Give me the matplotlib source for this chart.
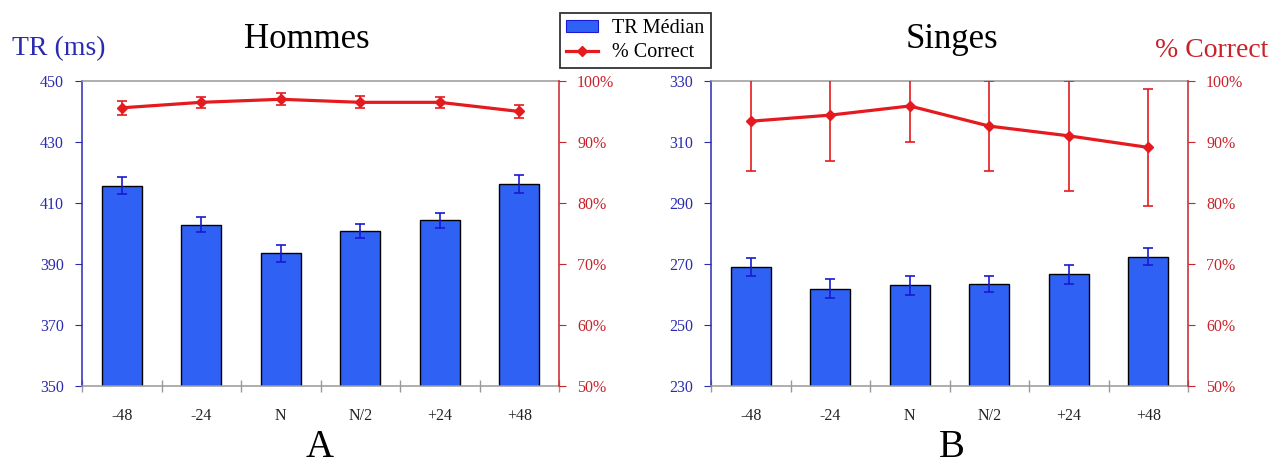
import matplotlib
matplotlib.use("Agg")
import matplotlib.pyplot as plt
from matplotlib.patches import Patch
from matplotlib.lines import Line2D
from matplotlib.ticker import FuncFormatter, FixedLocator

plt.rcParams['font.family'] = ['Liberation Serif', 'DejaVu Serif']

categories = ['-48', '-24', 'N', 'N/2', '+24', '+48']

hommes_tr = [415.7, 402.8, 393.4, 400.8, 404.3, 416.2]
hommes_tr_err = [2.7, 2.5, 2.8, 2.4, 2.5, 3.0]
hommes_pc = [95.6, 96.5, 97.0, 96.5, 96.5, 95.0]
hommes_pc_err = [1.2, 0.9, 1.0, 1.0, 0.9, 1.1]

singes_tr = [268.9, 261.9, 262.9, 263.4, 266.5, 272.3]
singes_tr_err = [3.0, 3.0, 3.0, 2.7, 3.0, 2.8]
singes_pc = [93.4, 94.4, 95.9, 92.6, 91.0, 89.1]
singes_pc_err = [8.2, 7.5, 5.9, 7.4, 9.0, 9.6]

left_ticks_h = [350, 370, 390, 410, 430, 450]
left_ticks_s = [230, 250, 270, 290, 310, 330]
pc_ticks = [50, 60, 70, 80, 90, 100]

BAR = '#2f62f4'
BAR_ERR = '#1a1ad0'
RED = '#e51a1f'
BLUE_TXT = '#2b2bb0'
RED_TXT = '#c8222a'
GRAY = '#999999'

fig = plt.figure(figsize=(12.78, 4.68), dpi=100)
W, H = 1278, 468


def panel(x0, tr, tr_err, pc, pc_err, yticks):
    ax = fig.add_axes([x0 / W, 1 - 385.7 / H, 477 / W, (385.7 - 81) / H])
    x = list(range(len(categories)))
    ax.bar(x, tr, width=0.5, color=BAR, edgecolor='black', linewidth=1.0,
           yerr=tr_err, error_kw=dict(ecolor=BAR_ERR, elinewidth=1.2,
                                      capsize=3.5, capthick=1.2), zorder=2)
    ax.set_xlim(-0.5, len(categories) - 0.5)
    ax.set_ylim(yticks[0], yticks[-1])
    ax.set_yticks(yticks)
    ax.set_xticks(x)
    ax.set_xticklabels(categories, fontsize=11.5, color='#222222')
    ax.xaxis.set_minor_locator(FixedLocator([i + 0.5 for i in range(-1, len(categories))]))
    ax.tick_params(axis='x', which='major', length=0, pad=16)
    ax.tick_params(axis='x', which='minor', length=8, direction='inout',
                   color=GRAY, width=1)
    ax.tick_params(axis='y', length=5, color=BLUE_TXT, labelcolor=BLUE_TXT,
                   labelsize=11.5, pad=8)
    ax.spines['left'].set_color(BLUE_TXT)
    ax.spines['right'].set_visible(False)
    ax.spines['top'].set_color(GRAY)
    ax.spines['bottom'].set_color(GRAY)
    for s in ax.spines.values():
        s.set_linewidth(1.1)

    ax2 = ax.twinx()
    ax2.errorbar(x, pc, yerr=pc_err, color=RED, linewidth=2.3, marker='D',
                 markersize=5, ecolor=RED, elinewidth=1.2, capsize=3.5,
                 capthick=1.2, zorder=3)
    ax2.set_ylim(50, 100)
    ax2.set_yticks(pc_ticks)
    ax2.yaxis.set_major_formatter(FuncFormatter(lambda v, p: f'{int(v)}%'))
    ax2.tick_params(axis='y', length=5, color=RED_TXT, labelcolor=RED_TXT,
                    labelsize=11.5, pad=8)
    ax2.spines['right'].set_color(RED_TXT)
    ax2.spines['right'].set_linewidth(1.1)
    for k in ('left', 'top', 'bottom'):
        ax2.spines[k].set_visible(False)
    return ax, ax2


panel(82, hommes_tr, hommes_tr_err, hommes_pc, hommes_pc_err, left_ticks_h)
panel(711, singes_tr, singes_tr_err, singes_pc, singes_pc_err, left_ticks_s)

fig.text(307 / W, 1 - 48 / H, 'Hommes', fontsize=25, ha='center', va='baseline')
fig.text(952 / W, 1 - 48 / H, 'Singes', fontsize=25, ha='center', va='baseline')
fig.text(12 / W, 1 - 55 / H, 'TR (ms)', fontsize=20, color=BLUE_TXT, ha='left', va='baseline')
fig.text(1268 / W, 1 - 57 / H, '% Correct', fontsize=20, color=RED_TXT, ha='right', va='baseline')
fig.text(320 / W, 1 - 457 / H, 'A', fontsize=28, ha='center', va='baseline')
fig.text(952 / W, 1 - 457 / H, 'B', fontsize=28, ha='center', va='baseline')

handles = [Patch(facecolor=BAR, edgecolor=BAR_ERR, linewidth=0.8),
           Line2D([0], [0], color=RED, linewidth=2.3, marker='D', markersize=5)]
leg = fig.legend(handles, ['TR Médian', '% Correct'], loc='upper left',
                 bbox_to_anchor=(560 / W, 1 - 13 / H), borderaxespad=0,
                 fontsize=14.5, frameon=True, fancybox=False,
                 handlelength=1.6, handleheight=0.5, handletextpad=0.7,
                 labelspacing=0.25, borderpad=0.3)
leg.get_frame().set_edgecolor('black')
leg.get_frame().set_linewidth(1.3)

fig.savefig('out.png', dpi=100)
